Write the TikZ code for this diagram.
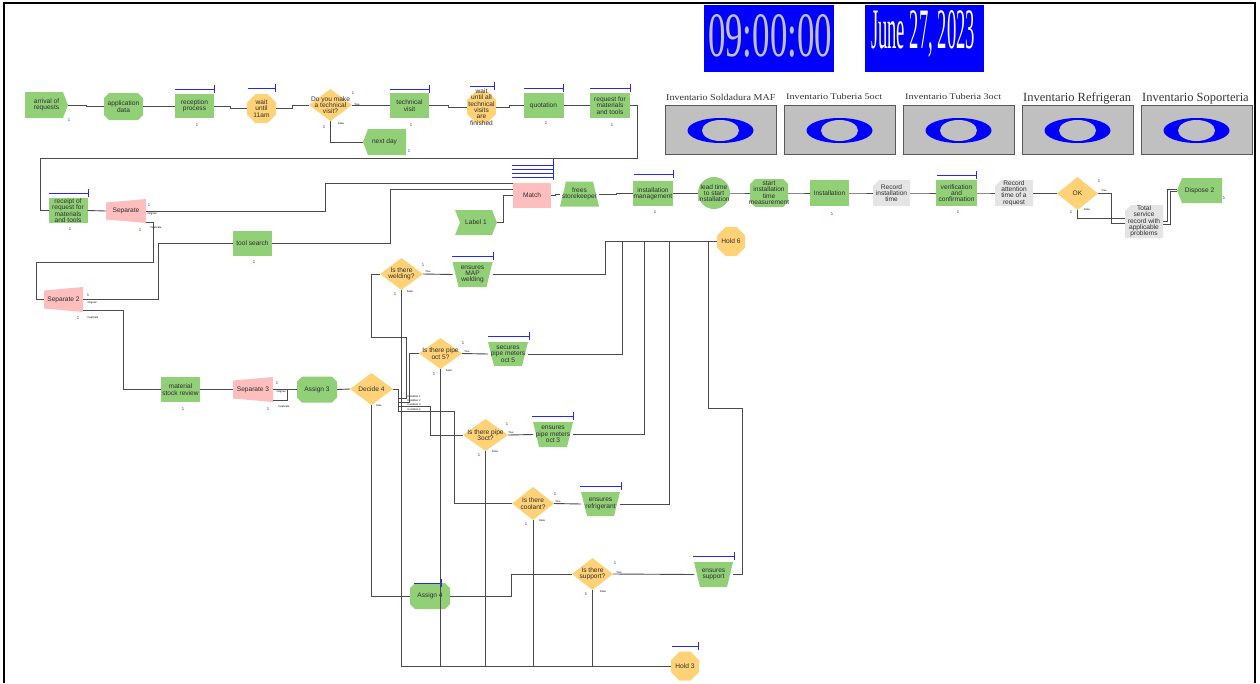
\documentclass[tikz,border=0pt]{standalone}
\usepackage{graphicx}
\usepackage{fontspec}
\setmainfont{Liberation Sans}
\newfontfamily\serifff{Liberation Serif}
\usetikzlibrary{calc,arrows.meta}
\definecolor{cgreen}{RGB}{146,208,120}
\definecolor{corange}{RGB}{255,210,120}
\definecolor{cpink}{RGB}{255,190,190}
\definecolor{cgray}{RGB}{228,228,228}
\definecolor{cline}{RGB}{75,75,75}
\definecolor{cblue}{RGB}{40,40,245}
\definecolor{ctext}{RGB}{45,45,45}
\definecolor{cinv}{RGB}{192,192,192}
\newcommand\ppb[3]{([xshift=#2pt,yshift=#3pt]path picture bounding box.#1)}
\tikzset{
  nd/.style={rectangle,inner sep=0pt,outer sep=0pt,align=center,text=ctext,font=\fontsize{6.6}{6.3}\selectfont},
  sz/.style 2 args={minimum width=#1pt,minimum height=#2pt},
  procsh/.style={nd,fill=cgreen},
  matchsh/.style={nd,fill=cpink},
  createsh/.style={nd,path picture={\fill[cgreen] \ppb{north west}{0}{0} -- \ppb{north east}{-5}{0} -- \ppb{east}{0}{0} -- \ppb{south east}{-5}{0} -- \ppb{south west}{0}{0} -- cycle;}},
  disposesh/.style={nd,path picture={\fill[cgreen] \ppb{north west}{5}{0} -- \ppb{north east}{0}{0} -- \ppb{south east}{0}{0} -- \ppb{south west}{5}{0} -- \ppb{west}{0}{0} -- cycle;}},
  labelsh/.style={nd,path picture={\fill[cgreen] \ppb{north west}{0}{0} -- \ppb{north east}{-5}{0} -- \ppb{east}{0}{0} -- \ppb{south east}{-5}{0} -- \ppb{south west}{0}{0} -- \ppb{west}{5}{0} -- cycle;}},
  sepsh/.style={nd,path picture={\fill[cpink] \ppb{north west}{0}{-3.5} -- \ppb{north east}{0}{0} -- \ppb{south east}{0}{0} -- \ppb{south west}{0}{3.5} -- cycle;}},
  topwide/.style={nd,path picture={\fill[cgreen] \ppb{north west}{0}{0} -- \ppb{north east}{0}{0} -- \ppb{south east}{-6}{0} -- \ppb{south west}{6}{0} -- cycle;}},
  botwide/.style={nd,path picture={\fill[cgreen] \ppb{north west}{6}{0} -- \ppb{north east}{-6}{0} -- \ppb{south east}{0}{0} -- \ppb{south west}{0}{0} -- cycle;}},
  recordsh/.style={nd,path picture={\fill[cgray] \ppb{north west}{6}{0} -- \ppb{north east}{0}{0} -- \ppb{south east}{0}{0} -- \ppb{south west}{0}{0} -- \ppb{north west}{0}{-6} -- cycle;}},
  diamsh/.style={nd,path picture={\fill[corange] \ppb{north}{0}{0} -- \ppb{east}{0}{0} -- \ppb{south}{0}{0} -- \ppb{west}{0}{0} -- cycle;}},
  octsh/.style={nd,path picture={\fill[corange] \ppb{north west}{8.5}{0} -- \ppb{north east}{-8.5}{0} -- \ppb{north east}{0}{-8.5} -- \ppb{south east}{0}{8.5} -- \ppb{south east}{-8.5}{0} -- \ppb{south west}{8.5}{0} -- \ppb{south west}{0}{8.5} -- \ppb{north west}{0}{-8.5} -- cycle;}},
  assignsh/.style={nd,path picture={\fill[cgreen] \ppb{north west}{5}{0} -- \ppb{north east}{-5}{0} -- \ppb{north east}{0}{-5} -- \ppb{south east}{0}{5} -- \ppb{south east}{-5}{0} -- \ppb{south west}{5}{0} -- \ppb{south west}{0}{5} -- \ppb{north west}{0}{-5} -- cycle;}},
  circsh/.style={nd,path picture={\fill[cgreen] (path picture bounding box.center) circle (16pt);}},
  invbox/.style={rectangle,draw=black!65,line width=1pt,fill=cinv,minimum width=111pt,minimum height=49pt,inner sep=0pt,
     path picture={\fill[blue] ([yshift=-1pt]path picture bounding box.center) ellipse (33pt and 12.5pt);
                   \fill[cinv] ([yshift=-1pt]path picture bounding box.center) ellipse (18.5pt and 10.5pt);}},
  invlab/.style={anchor=base west,inner sep=0pt,text=black!80},
  conn/.style={draw=cline,line width=0.9pt},
  zz/.style={to path={-| ($(\tikztostart)!.5!(\tikztotarget)$) |- (\tikztotarget)}},
  qline/.style={draw=cblue,line width=0.9pt},
  qbar/.style={qline,-{Bar[width=8pt,line width=0.9pt]}},
  bnum/.style={inner sep=0pt,text=cblue,font=\fontsize{4.2}{4.2}\selectfont},
  rnum/.style={inner sep=0pt,text=red!75!black,font=\fontsize{4.2}{4.2}\selectfont},
  tf/.style={inner sep=0pt,text=black,font=\fontsize{2.6}{2.6}\selectfont},
}
\begin{document}
\begin{tikzpicture}[x=1pt,y=-1pt]
\useasboundingbox (0,0) rectangle (1260,683);
% frame
\draw[line width=1.2pt] (1255,683) -- (1255,3) -- (4,3);
\draw[line width=2.4pt] (4,2.4) -- (4,683);

% clock and date
\node[fill=blue,minimum width=130pt,minimum height=67pt,inner sep=0pt] (clk) at (769,38.5) {};
\node[inner sep=0pt,text=cinv] (clkt) at (770,36) {\resizebox{124pt}{42pt}{\serifff 09:00:00}};
\node[fill=blue,minimum width=119pt,minimum height=67pt,inner sep=0pt] (dat) at (924.5,38.5) {};
\node[inner sep=0pt,text=white] (datt) at (923,34) {\resizebox{104pt}{38pt}{\serifff June 27, 2023}};

% inventories
\node[invbox] (inv1) at (720.5,129.5) {};
\node[invbox] (inv2) at (839.5,129.5) {};
\node[invbox] (inv3) at (958.5,129.5) {};
\node[invbox] (inv4) at (1077.5,129.5) {};
\node[invbox] (inv5) at (1196.5,129.5) {};
\node[invlab,font=\serifff\fontsize{9}{9}\selectfont] (il1) at (666,100.5) {\scalebox{1.12}[1]{Inventario Soldadura MAF}};
\node[invlab,font=\serifff\fontsize{8.5}{8.5}\selectfont] (il2) at (786,99.5) {\scalebox{1.2}[1]{Inventario Tuberia 5oct}};
\node[invlab,font=\serifff\fontsize{8.5}{8.5}\selectfont] (il3) at (905,99.5) {\scalebox{1.2}[1]{Inventario Tuberia 3oct}};
\node[invlab,font=\serifff\fontsize{12.5}{12.5}\selectfont] (il4) at (1023,101) {Inventario Refrigeran};
\node[invlab,font=\serifff\fontsize{12.5}{12.5}\selectfont] (il5) at (1142,101) {Inventario Soporteria};

% top row
\node[createsh,sz={43}{26}] (arr) at (46.5,105) {arrival of\\requests};
\node[assignsh,sz={39}{27}] (app) at (123.5,106.5) {application\\data};
\node[procsh,sz={39}{24}] (rec) at (194.5,106) {reception\\process};
\node[octsh,sz={29}{29}] (w11) at (261.5,108.5) {wait\\until\\11am};
\node[diamsh,sz={43}{32}] (dec1) at (330.5,105) {Do you make\\a technical\\visit?};
\node[procsh,sz={39}{25}] (tv) at (409.5,105.5) {technical\\visit};
\node[octsh,sz={29}{31},label={[nd]center:wait\\until all\\technical\\visits\\are\\finished}] (wall) at (481.5,107) {};
\node[procsh,sz={40}{25}] (quo) at (543.5,105.5) {quotation};
\node[procsh,sz={40}{25}] (reqm) at (610,105.5) {request for\\materials\\and tools};
\node[disposesh,sz={43}{26}] (nday) at (384.5,142) {next day};

% second row
\node[procsh,sz={39}{25},label={[nd]center:receipt of\\request for\\materials\\and tools}] (rcpt) at (68,210.5) {};
\node[sepsh,sz={40}{24}] (sep1) at (126,211) {Separate};
\node[sepsh,sz={39}{25}] (sep2) at (63.5,299.5) {Separate 2};
\node[procsh,sz={39}{25}] (tools) at (252.5,243.5) {tool search};
\node[procsh,sz={39}{25}] (msr) at (180.5,389.5) {material\\stock review};
\node[sepsh,sz={40}{25}] (sep3) at (253,389.5) {Separate 3};
\node[assignsh,sz={40}{26}] (as3) at (317,389.5) {Assign 3};
\node[diamsh,sz={43}{32}] (dec4) at (371.5,389) {Decide 4};
\node[labelsh,sz={42}{25}] (lab1) at (476,222.5) {Label 1};
\node[matchsh,sz={38}{25}] (match) at (532,195) {Match};
\node[botwide,sz={39}{25}] (frees) at (579.5,194) {frees\\storekeeper};
\node[procsh,sz={40}{25}] (instm) at (653,193.5) {installation\\management};
\node[circsh,sz={32}{32},label={[nd]center:lead time\\to start\\installation}] (lead) at (714,193) {};
\node[assignsh,sz={38}{28},label={[nd]center:start\\installation\\time\\measurement}] (stm) at (769,193) {};
\node[procsh,sz={39}{26}] (inst) at (829.5,193) {Installation};
\node[recordsh,sz={37}{26}] (rinst) at (891.5,193) {Record\\installation\\time};
\node[procsh,sz={41}{26}] (verif) at (956.5,193) {verification\\and\\confirmation};
\node[recordsh,sz={38}{26},label={[nd]center:Record\\attention\\time of a\\request}] (ratt) at (1014,193) {};
\node[diamsh,sz={41}{33}] (ok) at (1077.5,193.5) {OK};
\node[recordsh,sz={38}{33},label={[nd]center:Total\\service\\record with\\applicable\\problems}] (total) at (1144,221.5) {};
\node[disposesh,sz={45}{25}] (disp2) at (1199.5,190.5) {Dispose 2};

% holds
\node[octsh,sz={28}{29}] (hold6) at (731,241.5) {Hold 6};
\node[octsh,sz={28}{29}] (hold3) at (685,666) {Hold 3};

% decision column
\node[diamsh,sz={43}{32}] (weld) at (401.5,274) {Is there\\welding?};
\node[topwide,sz={40}{25}] (mapw) at (472.5,274.5) {ensures\\MAP\\welding};
\node[diamsh,sz={43}{31}] (pipe5) at (440.5,353.5) {Is there pipe\\oct 5?};
\node[topwide,sz={40}{24}] (sec5) at (508,354) {secures\\pipe meters\\oct 5};
\node[diamsh,sz={45}{32}] (pipe3) at (485.5,435) {Is there pipe\\3oct?};
\node[topwide,sz={40}{25}] (ens3) at (553,434.5) {ensures\\pipe meters\\oct 3};
\node[diamsh,sz={42}{33}] (cool) at (533,503.5) {Is there\\coolant?};
\node[topwide,sz={39}{24}] (refr) at (600.5,504) {ensures\\refrigerant};
\node[assignsh,sz={40}{26}] (as4) at (430,596) {Assign 4};
\node[diamsh,sz={41}{32}] (supp) at (592.5,574) {Is there\\support?};
\node[topwide,sz={39}{25}] (ensup) at (713.5,574.5) {ensures\\support};

% queue bars
\draw[qbar] (175,89) -- (215,89);
\draw[qbar] (248,88) -- (276,88);
\draw[qbar] (390,89) -- (430,89);
\draw[qbar] (470,86) -- (495,86);
\draw[qbar] (524,88) -- (564,88);
\draw[qbar] (590,88) -- (631,88);
\draw[qbar] (49,193) -- (89,193);
\draw[qbar] (634,174) -- (674,174);
\draw[qbar] (937,175) -- (977,175);
\draw[qbar] (452,256) -- (494,256);
\draw[qbar] (488,336) -- (530,336);
\draw[qbar] (532,416) -- (574,416);
\draw[qbar] (580,486) -- (622,486);
\draw[qbar] (693,556) -- (735,556);
\draw[qbar] (414,583) -- (442,583);
\draw[qbar] (672,646) -- (699,646);
\foreach \yy in {165,169,173,177} \draw[qline] (512,\yy) -- (553,\yy);
\draw[qline] (553,159) -- (553,180);

% connectors top row
\draw[conn] (arr.east) to[zz] (app.west);
\draw[conn] (app.east) to[zz] (rec.west);
\draw[conn] (rec.east) to[zz] (w11.west);
\draw[conn] (w11.east) to[zz] (dec1.west);
\draw[conn] (dec1.east) to[zz] (tv.west);
\draw[conn] (tv.east) to[zz] (wall.west);
\draw[conn] (wall.east) to[zz] (quo.west);
\draw[conn] (quo.east) to[zz] (reqm.west);
\draw[conn] (dec1.south) |- (nday.west);
\draw[conn] (reqm.east) -- ++(7,0) |- (40,158) |- (rcpt.west);

% second row
\draw[conn] (rcpt.east) -- (sep1.west);
\draw[conn] (sep1.east) -- (325,211) |- ([yshift=11.5pt]match.west);
\draw[conn] ([yshift=-11pt]sep1.east) -- (153,222) -- (153,262) -- (36,262) |- (sep2.west);
\draw[conn] (sep2.east) -- (158,299.5) |- (tools.west);
\draw[conn] ([yshift=-11pt]sep2.east) -- (123,310.5) |- (msr.west);
\draw[conn] (tools.east) -- (390,243.5) |- ([yshift=6pt]match.west);
\draw[conn] (lab1.east) -- (503,222.5) |- (match.west);
\draw[conn] (msr.east) -- (sep3.west);
\draw[conn] (sep3.east) -- (as3.west);
\draw[conn] ([yshift=-11pt]sep3.east) -| (287,389.5);
\draw[conn] (as3.east) -- (dec4.west);
\draw[conn] (match.east) to[zz] (frees.west);
\draw[conn] (frees.east) to[zz] (instm.west);
\draw[conn] (instm.east) to[zz] (lead.west);
\draw[conn] (lead.east) to[zz] (stm.west);
\draw[conn] (stm.east) to[zz] (inst.west);
\draw[conn] (inst.east) to[zz] (rinst.west);
\draw[conn] (rinst.east) to[zz] (verif.west);
\draw[conn] (verif.east) to[zz] (ratt.west);
\draw[conn] (ratt.east) to[zz] (ok.west);
\draw[conn] (ok.east) -- (1111,193.5) |- ([yshift=-1.5pt]total.west);
\draw[conn] (ok.south) |- ([yshift=3pt]total.west);
\draw[conn] (total.east) -- (1167,221.5) |- ([yshift=1.5pt]disp2.west);
\draw[conn] ([yshift=-3pt]total.east) -- (1170,224.5) |- ([yshift=-1pt]disp2.west);

% decide 4 fan
\draw[conn] (dec4.east) -- (398,389) -- (398,398) -- (406,398) -- (406,337) -- (371,337) |- (weld.west);
\draw[conn] (dec4.east) -- (398,389) -- (398,402) -- (409,402) |- (pipe5.west);
\draw[conn] (dec4.east) -- (398,389) -- (398,406.5) -- (430,406.5) |- (pipe3.west);
\draw[conn] (dec4.east) -- (398,389) -- (398,411) -- (454,411) |- (cool.west);
\draw[conn] (dec4.south) |- (as4.west);
\draw[conn] (weld.east) -- (mapw.west);
\draw[conn] (pipe5.east) -- (sec5.west);
\draw[conn] (pipe3.east) -- (ens3.west);
\draw[conn] (cool.east) -- (refr.west);
\draw[conn] (supp.east) -- (ensup.west);
\draw[conn] (as4.east) -- (511,596) |- (supp.west);
\draw[conn] (mapw.east) -- (605,274.5) |- (hold6.west);
\draw[conn] (sec5.east) -- (622,354) |- (hold6.west);
\draw[conn] (ens3.east) -- (644,434.5) |- (hold6.west);
\draw[conn] (refr.east) -- (669,504) |- (hold6.west);
\draw[conn] (ensup.east) -- (742,574.5) -- (742,408) -- (708,408) |- (hold6.west);
\draw[conn] (weld.south) |- (hold3.west);
\draw[conn] (pipe5.south) |- (hold3.west);
\draw[conn] (pipe3.south) |- (hold3.west);
\draw[conn] (cool.south) |- (hold3.west);
\draw[conn] (supp.south) |- (hold3.west);

% small numbers
\node[bnum] (b1) at (69,120) {1};
\node[bnum] (b2) at (353,93) {1};
\node[bnum] (b3) at (324,127) {1};
\node[bnum] (b4) at (409,151) {1};
\node[bnum] (b5) at (149,205) {1};
\node[bnum] (b6) at (140,230) {1};
\node[bnum] (b7) at (88,295) {1};
\node[bnum] (b8) at (78,318) {1};
\node[bnum] (b9) at (277,383) {1};
\node[bnum] (b10) at (268,409) {1};
\node[bnum] (b11) at (1099,181) {1};
\node[bnum] (b12) at (1071,212) {1};
\node[bnum] (b13) at (1224,198) {1};
\node[bnum] (b14) at (423,265) {1};
\node[bnum] (b15) at (395,294) {1};
\node[bnum] (b16) at (463,343) {1};
\node[bnum] (b17) at (434,374) {1};
\node[bnum] (b18) at (507,424) {1};
\node[bnum] (b19) at (479,455) {1};
\node[bnum] (b20) at (555,494) {1};
\node[bnum] (b21) at (526,524) {1};
\node[bnum] (b22) at (615,563) {1};
\node[bnum] (b23) at (586,594) {1};
\node[rnum] (r1) at (197,125) {1};
\node[rnum] (r2) at (411,125) {1};
\node[rnum] (r3) at (546,123) {1};
\node[rnum] (r4) at (612,125) {1};
\node[rnum] (r5) at (70,229) {1};
\node[rnum] (r6) at (254,262) {1};
\node[rnum] (r7) at (183,409) {1};
\node[rnum] (r8) at (655,212) {1};
\node[rnum] (r9) at (832,214) {1};
\node[rnum] (r10) at (958,212) {1};

% branch labels
\node[tf] (t1) at (357,105) {True};
\node[tf] (f1) at (341,124) {False};
\node[tf] (t2) at (1104,191) {True};
\node[tf] (f2) at (1087,210) {False};
\node[tf] (t3) at (428,272) {True};
\node[tf] (f3) at (410,292) {False};
\node[tf] (t4) at (467,352) {True};
\node[tf] (f4) at (449,371) {False};
\node[tf] (t5) at (511,433) {True};
\node[tf] (f5) at (495,452) {False};
\node[tf] (t6) at (558,502) {True};
\node[tf] (f6) at (542,521) {False};
\node[tf] (t7) at (619,573) {True};
\node[tf] (f7) at (603,592) {False};
\node[tf] (e4) at (379,406) {Else};
\node[tf] (c1) at (414,396.5) {Condition 1};
\node[tf] (c2) at (414,400.5) {Condition 2};
\node[tf] (c3) at (414,405) {Condition 3};
\node[tf] (c4) at (414,409.5) {Condition 4};
\node[tf] (o1) at (152,214) {Original};
\node[tf] (d1) at (156,228) {Duplicate};
\node[tf] (o2) at (92,303) {Original};
\node[tf] (d2) at (93,318) {Duplicate};
\node[tf] (o3) at (281,392) {Original};
\node[tf] (d3) at (284,407) {Duplicate};
\end{tikzpicture}
\end{document}
